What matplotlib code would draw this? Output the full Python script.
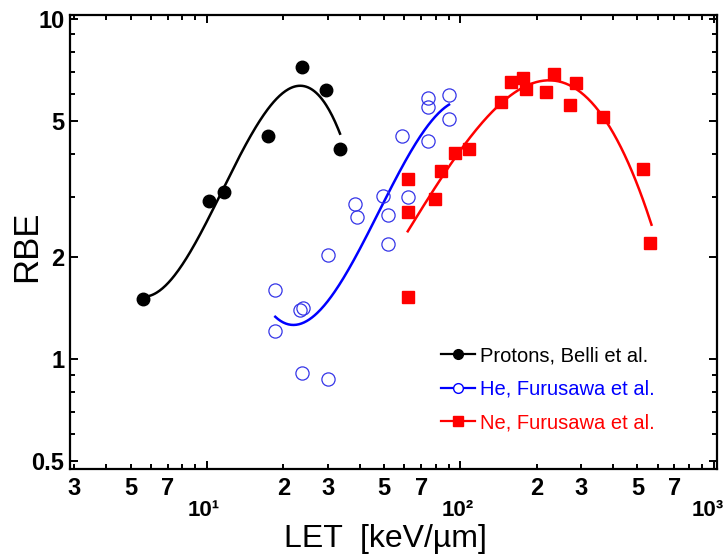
import numpy as np
import matplotlib
matplotlib.use('Agg')
from matplotlib import pyplot as plt
from matplotlib import font_manager
from matplotlib.ticker import FixedLocator, FuncFormatter, NullFormatter
from matplotlib.lines import Line2D

# protons, Belli et al.
p_let = [5.58, 10.2, 11.7, 17.4, 23.7, 29.5, 33.5]
p_rbe = [1.50, 2.92, 3.10, 4.53, 7.22, 6.18, 4.15]
p_fit_range = [5.58, 33.5]

# He, Furusawa et al.
he_let = [18.6, 18.6, 23.3, 24.0, 30.1, 23.7, 30.0, 38.5, 39.2, 49.6,
          51.9, 51.9, 62.1, 59.0, 74.5, 74.5, 74.5, 90.2, 90.2]
he_rbe = [1.60, 1.21, 1.39, 1.41, 2.02, 0.91, 0.874, 2.86, 2.62, 3.02,
          2.65, 2.18, 2.99, 4.53, 4.38, 5.86, 5.51, 5.98, 5.08]
he_fit_range = [18.6, 90.2]

# Ne, Furusawa et al.
ne_let = [62.3, 62.3, 62.3, 79.6, 84.1, 95.5, 108.5, 145, 159, 177,
          181, 217, 235, 285, 272, 367, 524, 558]
ne_rbe = [3.38, 2.71, 1.52, 2.95, 3.57, 4.04, 4.15, 5.70, 6.53, 6.70,
          6.22, 6.10, 6.89, 6.48, 5.58, 5.15, 3.62, 2.19]
ne_fit_range = [62.0, 568]

labels = ['Protons, Belli et al.', 'He, Furusawa et al.', 'Ne, Furusawa et al.']
decade_ticks = [10, 100, 1000]
decade_labels = ['10\u00b9', '10\u00b2', '10\u00b3']

names = set(f.name for f in font_manager.fontManager.ttflist)
narrow = 'Liberation Sans Narrow' if 'Liberation Sans Narrow' in names else 'Liberation Sans'
plt.rcParams['font.family'] = [narrow, 'DejaVu Sans']


def fit_curve(x, y, xr, deg=3):
    # cubic fit in log-log space
    c = np.polyfit(np.log10(x), np.log10(y), deg)
    xs = np.logspace(np.log10(xr[0]), np.log10(xr[1]), 200)
    return xs, 10 ** np.polyval(c, np.log10(xs))


fig = plt.figure(figsize=(7.27, 5.59), dpi=100)
ax = fig.add_axes([70/727, 90/559, 647/727, 454/559])

xs, ys = fit_curve(p_let, p_rbe, p_fit_range)
ax.plot(xs, ys, color='black', lw=1.8)
xs, ys = fit_curve(he_let, he_rbe, he_fit_range)
ax.plot(xs, ys, color='blue', lw=1.8)
xs, ys = fit_curve(ne_let, ne_rbe, ne_fit_range)
ax.plot(xs, ys, color='red', lw=1.8)

ax.plot(p_let, p_rbe, 'o', color='black', ms=9, ls='none')
ax.plot(he_let, he_rbe, 'o', mfc='none', mec='#3535e8', mew=0.9, ms=9.5, ls='none')
ax.plot(ne_let, ne_rbe, 's', color='red', ms=9, ls='none')

ax.set_xscale('log')
ax.set_yscale('log')
ax.set_xlim(2.88, 1030)
ax.set_ylim(0.475, 10.27)

# x ticks: digits on the minor ticks, decades written lower down
ax.xaxis.set_major_locator(FixedLocator(decade_ticks))
ax.xaxis.set_major_formatter(NullFormatter())
xminor = [m * 10 ** e for e in range(0, 3) for m in range(2, 10)]
ax.xaxis.set_minor_locator(FixedLocator(xminor))


def minor_lab(v, p):
    m = int(round(v / 10 ** np.floor(np.log10(v) + 1e-9)))
    return str(m) if m in (2, 3, 5, 7) else ''


ax.xaxis.set_minor_formatter(FuncFormatter(minor_lab))

for i, (v, lab) in enumerate(zip(decade_ticks, decade_labels)):
    dx = -6 if i == len(decade_ticks) - 1 else -3
    ax.annotate(lab, xy=(v, 0), xycoords=('data', 'axes fraction'),
                xytext=(dx, -41), textcoords='offset pixels',
                ha='center', va='center', fontsize=16, fontweight='bold')

# y ticks
ax.yaxis.set_major_locator(FixedLocator([0.5, 1, 2, 5, 10]))
ax.yaxis.set_major_formatter(FuncFormatter(lambda v, p: '%g' % v))
ax.yaxis.set_minor_locator(FixedLocator([0.6, 0.7, 0.8, 0.9, 3, 4, 6, 7, 8, 9]))
ax.yaxis.set_minor_formatter(NullFormatter())

ax.tick_params(which='both', direction='in', top=True, right=True, width=1.4)
ax.tick_params(which='major', length=6)
ax.tick_params(which='minor', length=3.5)
ax.tick_params(axis='x', which='minor', labelsize=17, pad=6)
ax.tick_params(axis='y', which='major', labelsize=17, pad=4)
for lab in ax.get_xticklabels(which='both') + ax.get_yticklabels():
    lab.set_fontweight('bold')
for s in ax.spines.values():
    s.set_linewidth(1.6)

ax.set_xlabel('LET  [keV/\u00b5m]', fontsize=23)
ax.set_ylabel('RBE', fontsize=25)
ax.xaxis.set_label_coords(0.488, -0.122)
ax.yaxis.set_label_coords(-0.042, 0.49)

handles = [
    Line2D([], [], color='black', marker='o', ms=7, lw=1.6),
    Line2D([], [], color='blue', marker='o', mfc='white', mec='blue', ms=7, lw=1.6),
    Line2D([], [], color='red', marker='s', ms=7, lw=1.6),
]
ax.legend(handles, labels, loc='upper left', bbox_to_anchor=(0.573, 0.27),
          frameon=False, fontsize=14.5, handlelength=1.7, handletextpad=0.25,
          labelspacing=0.72, borderpad=0, borderaxespad=0, labelcolor='linecolor')

fig.savefig('out.png', dpi=100)
